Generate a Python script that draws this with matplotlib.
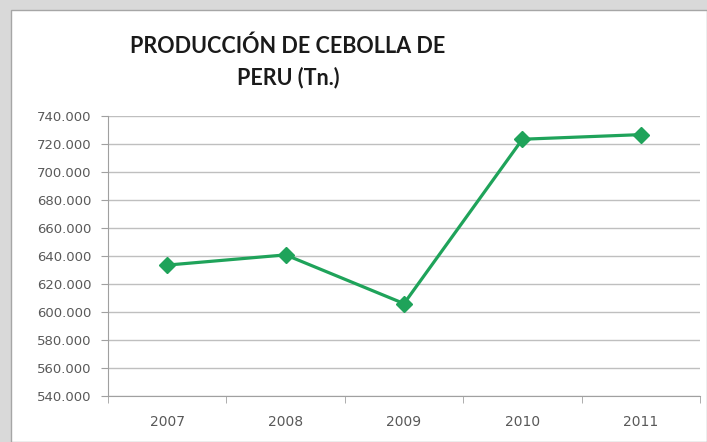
import matplotlib
matplotlib.use('Agg')
import matplotlib.pyplot as plt
from matplotlib.patches import Rectangle
from matplotlib.ticker import FuncFormatter, FixedLocator

# datos
anios = ['2007', '2008', '2009', '2010', '2011']
produccion = [633500, 640800, 606000, 723400, 726700]

VERDE = '#1fa35a'
GRIS_TEXTO = '#595959'
GRIS_REJILLA = '#bfbfbf'

fig = plt.figure(figsize=(7.07, 4.42), dpi=100)
fig.patch.set_facecolor('#d9d9d9')

# area blanca del grafico (marco tipo Excel)
W, H = 707, 442
fondo = Rectangle((11 / W, 0), 1 - 11 / W, 1 - 10 / H, transform=fig.transFigure,
                  facecolor='white', edgecolor='#a6a6a6', linewidth=1.0, zorder=-5)
fig.patches.append(fondo)

ax = fig.add_axes([108 / W, 1 - 396 / H, (700 - 108) / W, (396 - 116) / H])
ax.set_facecolor('none')
ax.set_zorder(2)

x = list(range(len(anios)))
ax.plot(x, produccion, color=VERDE, linewidth=2.3, marker='D', markersize=8.5,
        markerfacecolor=VERDE, markeredgecolor=VERDE, zorder=3)

ax.set_ylim(540000, 740000)
ax.set_yticks(range(540000, 740001, 20000))
ax.yaxis.set_major_formatter(FuncFormatter(lambda v, p: f'{int(v):,}'.replace(',', '.')))
ax.grid(axis='y', color=GRIS_REJILLA, linewidth=1.0)
ax.set_axisbelow(True)

ax.set_xlim(-0.5, len(anios) - 0.5)
ax.set_xticks(x)
ax.set_xticklabels(anios)
ax.xaxis.set_minor_locator(FixedLocator([i - 0.5 for i in range(len(anios) + 1)]))
ax.tick_params(axis='x', which='major', length=0, pad=14, labelsize=10)
ax.tick_params(axis='x', which='minor', length=5, color='#a0a0a0', direction='out')
ax.tick_params(axis='y', length=5, color='#a0a0a0', pad=7, labelsize=9.5)
ax.tick_params(axis='both', labelcolor=GRIS_TEXTO)
for lbl in ax.get_yticklabels() + ax.get_xticklabels():
    lbl.set_family('DejaVu Sans')

for lado in ['top', 'right']:
    ax.spines[lado].set_visible(False)
ax.spines['left'].set_color('#a0a0a0')
ax.spines['bottom'].set_color('#a0a0a0')

fig.text(288 / W, 1 - 46 / H, 'PRODUCCIÓN DE CEBOLLA DE', ha='center', va='center',
         fontsize=15.5, fontweight='bold', family='Lato', color='#1a1a1a')
fig.text(288 / W, 1 - 78 / H, 'PERU (Tn.)', ha='center', va='center',
         fontsize=15.5, fontweight='bold', family='Lato', color='#1a1a1a')

fig.savefig('out.png', dpi=100, facecolor=fig.get_facecolor())
